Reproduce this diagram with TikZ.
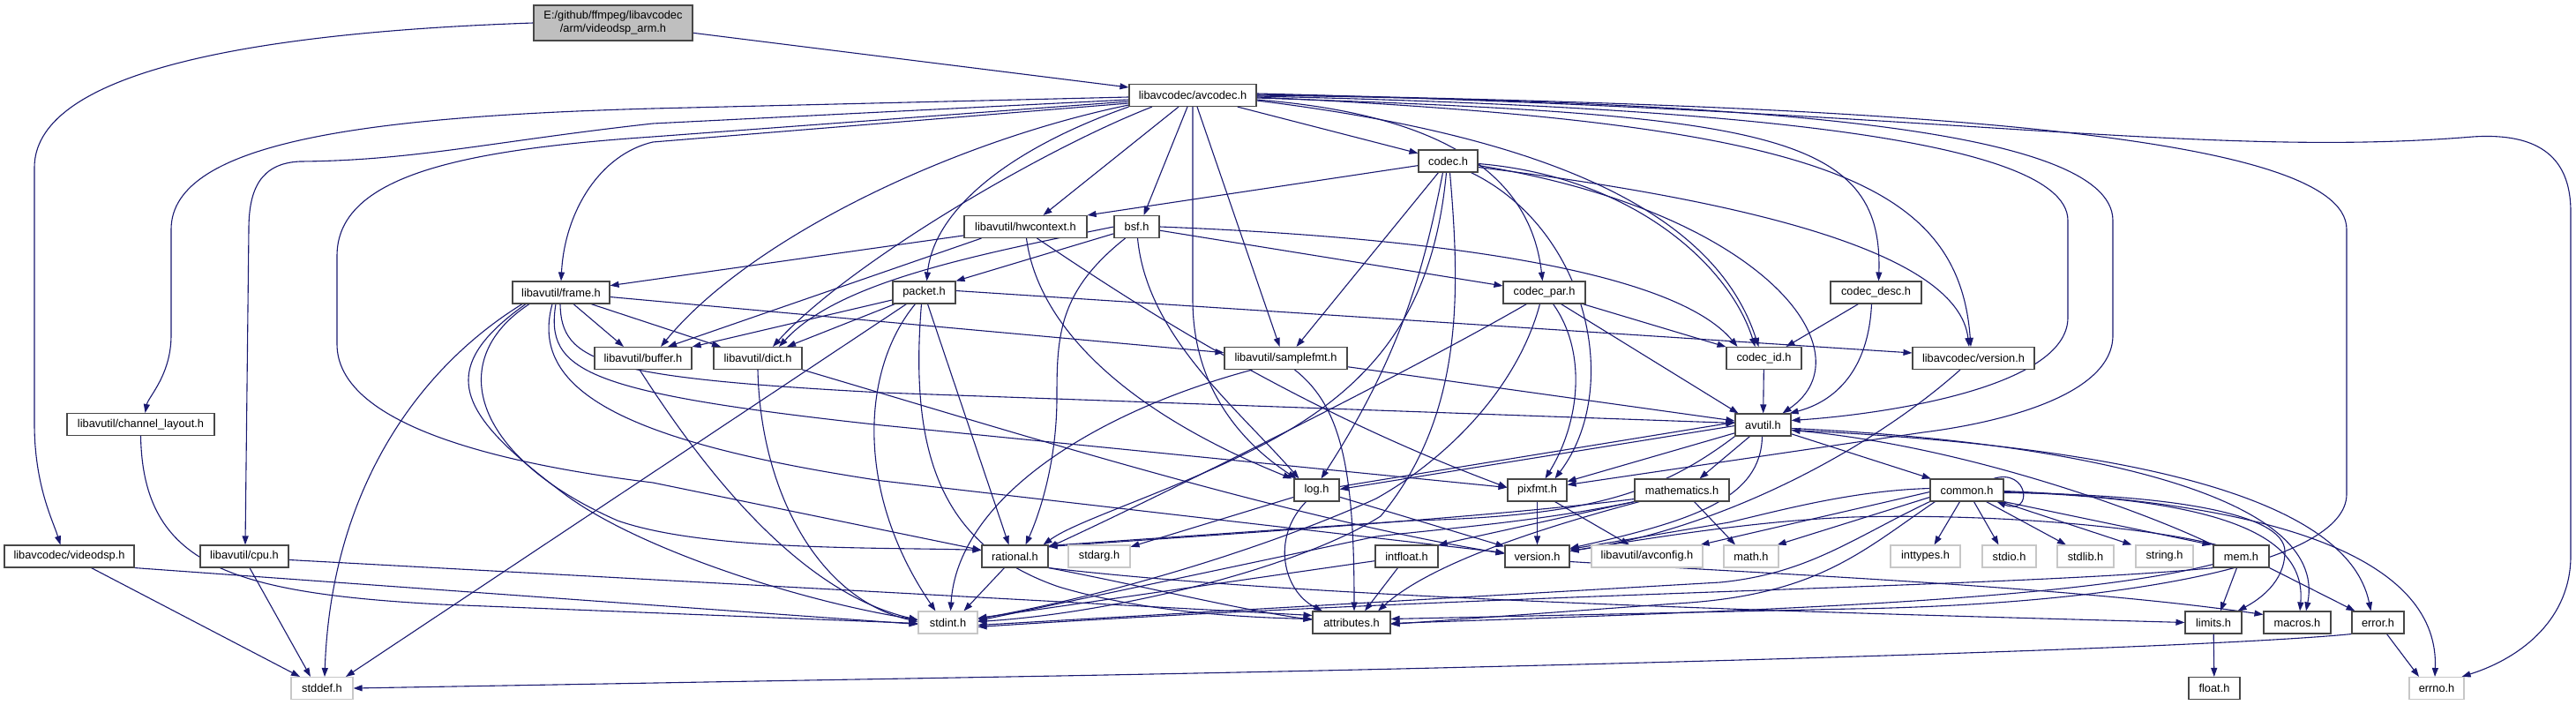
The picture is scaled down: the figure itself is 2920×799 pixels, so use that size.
\documentclass[tikz,border=0pt]{standalone}
\usepackage{fontspec}
\setmainfont{Liberation Sans}
\usetikzlibrary{arrows.meta,backgrounds}
\definecolor{edgec}{HTML}{191970}
\begin{document}
\begin{tikzpicture}[x=1pt,y=-1pt,
  box/.style={draw=black!72,line width=1.1pt,fill=white,inner sep=0pt,minimum height=25pt,font=\fontsize{12.8pt}{15pt}\selectfont},
  sys/.style={box,draw=black!22},
  rootbox/.style={box,fill=black!25,minimum height=40pt,align=center},
  e/.style={draw=edgec,line width=1.1pt,-{Triangle[length=10pt,width=7pt]}},
]
\useasboundingbox (0,0) rectangle (2920,799);
% nodes
\node[rootbox,minimum width=180pt] (root) at (695,26) {E:/github/ffmpeg/libavcodec\\/arm/videodsp\_arm.h};
\node[box,minimum width=144pt] (avcodec) at (1352,108) {libavcodec/avcodec.h};
\node[box,minimum width=67pt] (codec) at (1641.5,182.5) {codec.h};
\node[box,minimum width=139pt] (hwcontext) at (1162.5,257) {libavutil/hwcontext.h};
\node[box,minimum width=51pt] (bsf) at (1288.5,257) {bsf.h};
\node[box,minimum width=110pt] (frame) at (636,331.5) {libavutil/frame.h};
\node[box,minimum width=71pt] (packet) at (1047.5,331.5) {packet.h};
\node[box,minimum width=93pt] (codecpar) at (1750.5,331.5) {codec\_par.h};
\node[box,minimum width=103pt] (codecdesc) at (2126.5,331.5) {codec\_desc.h};
\node[box,minimum width=167pt] (chlayout) at (159.5,481) {libavutil/channel\_layout.h};
\node[box,minimum width=110pt] (buffer) at (729,406) {libavutil/buffer.h};
\node[box,minimum width=100pt] (dict) at (859,406) {libavutil/dict.h};
\node[box,minimum width=139pt] (samplefmt) at (1457.5,406) {libavutil/samplefmt.h};
\node[box,minimum width=85pt] (codecid) at (1999.5,406) {codec\_id.h};
\node[box,minimum width=138pt] (lavcver) at (2237,406) {libavcodec/version.h};
\node[box,minimum width=63pt] (avutil) at (1998.5,481.5) {avutil.h};
\node[box,minimum width=51pt] (log) at (1492.5,555.5) {log.h};
\node[box,minimum width=67pt] (pixfmt) at (1742.5,555.5) {pixfmt.h};
\node[box,minimum width=107pt] (mathematics) at (1906.5,555.5) {mathematics.h};
\node[box,minimum width=83pt] (common) at (2229.5,555.5) {common.h};
\node[box,minimum width=147pt] (videodsp) at (78.5,630.5) {libavcodec/videodsp.h};
\node[box,minimum width=100pt] (cpu) at (277,630.5) {libavutil/cpu.h};
\node[box,minimum width=75pt] (rational) at (1150.5,630.5) {rational.h};
\node[sys,minimum width=70pt] (stdarg) at (1246,630.5) {stdarg.h};
\node[box,minimum width=71pt] (intfloat) at (1594.5,630.5) {intfloat.h};
\node[box,minimum width=73pt] (version) at (1742.5,630.5) {version.h};
\node[sys,minimum width=126pt] (avconfig) at (1867,630.5) {libavutil/avconfig.h};
\node[sys,minimum width=62pt] (math) at (1985,630.5) {math.h};
\node[sys,minimum width=79pt] (inttypes) at (2182.5,630.5) {inttypes.h};
\node[sys,minimum width=61pt] (stdio) at (2277.5,630.5) {stdio.h};
\node[sys,minimum width=64pt] (stdlib) at (2364,630.5) {stdlib.h};
\node[sys,minimum width=65pt] (string) at (2453.5,630.5) {string.h};
\node[box,minimum width=63pt] (mem) at (2540.5,630.5) {mem.h};
\node[sys,minimum width=67pt] (stdint) at (1074.5,705.5) {stdint.h};
\node[box,minimum width=88pt] (attributes) at (1532,705.5) {attributes.h};
\node[box,minimum width=64pt] (limits) at (2509,705.5) {limits.h};
\node[box,minimum width=76pt] (macros) at (2604,705.5) {macros.h};
\node[box,minimum width=59pt] (error) at (2695.5,705.5) {error.h};
\node[sys,minimum width=70pt] (stddef) at (365,780) {stddef.h};
\node[box,minimum width=58pt] (float) at (2510,780) {float.h};
\node[sys,minimum width=62pt] (errno) at (2762,780) {errno.h};

\begin{pgfonlayer}{background}
% root
\draw[e] (root) -- (avcodec);
\draw[e] (root.west) .. controls (250,38) and (39,90) .. (39,190) -- (39,480) .. controls (39,550) and (60,590) .. ([xshift=-10pt]videodsp.north);
% avcodec
\draw[e] ([yshift=-2pt]avcodec.west) -- (740,123) .. controls (420,132) and (194,160) .. (194,260) -- (194,380) .. controls (194,425) and (168,450) .. ([xshift=5pt]chlayout.north);
\draw[e] ([yshift=-5pt]avcodec.west) -- (740,140) .. controls (560,160) and (470,182) .. (340,183) .. controls (295,185) and (282,215) .. (282,260) -- ([xshift=1pt]cpu.north);
\draw[e] ([yshift=-7pt]avcodec.west) -- (740,155) .. controls (520,170) and (382,200) .. (382,290) -- (382,390) .. controls (382,480) and (560,525) .. (740,547) -- ([yshift=7pt]rational.west);
\draw[e] ([yshift=-9pt]avcodec.west) -- (740,161) .. controls (680,175) and (640,240) .. (frame.north);
\draw[e] ([yshift=-11pt]avcodec.west) .. controls (1080,160) and (850,270) .. ([xshift=20pt]buffer.north);
\draw[e] ([xshift=-46pt]avcodec.south) .. controls (1180,170) and (960,300) .. ([xshift=17pt]dict.north);
\draw[e] (avcodec.south west) .. controls (1140,170) and (1058,240) .. ([xshift=3pt]packet.north);
\draw[e] ([xshift=-16pt]avcodec.south) -- ([xshift=20pt]hwcontext.north);
\draw[e] ([xshift=-6pt]avcodec.south) -- ([xshift=8pt]bsf.north);
\draw[e] (avcodec.south) -- (1352,340) .. controls (1352,450) and (1420,510) .. ([xshift=3pt]log.north west);
\draw[e] ([xshift=5pt]avcodec.south) -- ([xshift=-7pt]samplefmt.north);
\draw[e] (avcodec) -- (codec);
\draw[e] ([yshift=-5pt]avcodec.east) .. controls (1640,130) and (1735,200) .. ([xshift=-2pt]codecpar.north);
\draw[e] ([yshift=-6pt]avcodec.east) .. controls (1800,160) and (1950,260) .. ([xshift=-6pt]codecid.north);
\draw[e] ([yshift=-3pt]avcodec.east) .. controls (2000,130) and (2135,150) .. ([xshift=3pt]codecdesc.north);
\draw[e] ([yshift=-2pt]avcodec.east) .. controls (2050,140) and (2220,200) .. ([xshift=-3pt]lavcver.north);
\draw[e] ([yshift=-1pt]avcodec.east) .. controls (1900,120) and (2344,150) .. (2344,250) -- (2344,360) .. controls (2344,440) and (2130,470) .. ([yshift=5pt]avutil.east);
\draw[e] (avcodec.east) .. controls (1950,115) and (2395,140) .. (2395,250) -- (2395,380) .. controls (2395,450) and (2260,480) .. (2180,490) -- ([yshift=6pt]pixfmt.east);
\draw[e] ([yshift=1pt]avcodec.east) .. controls (2150,120) and (2660,150) .. (2660,260) -- (2660,560) .. controls (2660,640) and (2400,685) .. (2100,690) -- ([yshift=4pt]attributes.east);
\draw[e] ([yshift=2pt]avcodec.east) .. controls (2200,125) and (2500,180) .. (2803,155) .. controls (2880,150) and (2914,180) .. (2914,240) -- (2914,630) .. controls (2914,700) and (2860,745) .. ([xshift=-3pt]errno.north east);
% codec
\draw[e] (codec) -- (hwcontext.north east);
\draw[e] ([xshift=-11pt]codec.south) -- ([xshift=12pt]samplefmt.north);
\draw[e] ([xshift=-6pt]codec.south) .. controls (1615,300) and (1590,400) .. ([xshift=5pt]log.north);
\draw[e] ([xshift=-2pt]codec.south) .. controls (1625,350) and (1560,440) .. (1420,510) .. controls (1320,560) and (1220,590) .. ([xshift=-6pt]rational.north east);
\draw[e] ([xshift=2pt]codec.south) .. controls (1655,330) and (1660,470) .. (1565,585) .. controls (1470,645) and (1260,695) .. ([yshift=1pt]stdint.east);
\draw[e] ([xshift=26pt]codec.south) .. controls (1800,260) and (1840,440) .. ([xshift=20pt]pixfmt.north);
\draw[e] ([yshift=-3pt]codec.east) .. controls (1850,200) and (1960,300) .. ([xshift=-10pt]codecid.north);
\draw[e] ([yshift=-5pt]codec.east) .. controls (2000,240) and (2120,400) .. ([xshift=22pt]avutil.north);
\draw[e] ([yshift=-7pt]codec.east) .. controls (2000,230) and (2220,290) .. ([xshift=-5pt]lavcver.north);
% hwcontext
\draw[e] (hwcontext) -- (frame);
\draw[e] ([xshift=-50pt]hwcontext.south) -- ([xshift=28pt]buffer.north);
\draw[e] ([xshift=1pt]hwcontext.south) .. controls (1175,360) and (1260,460) .. ([xshift=-2pt]log.north west);
\draw[e] ([xshift=13pt]hwcontext.south) .. controls (1280,340) and (1460,460) .. ([yshift=3pt]pixfmt.west);
% bsf
\draw[e] (bsf) -- (packet.north east);
\draw[e] (bsf.west) .. controls (1100,290) and (950,320) .. ([xshift=24pt]dict.north);
\draw[e] ([xshift=1pt]bsf.south) .. controls (1300,380) and (1400,460) .. ([xshift=-20pt]log.north);
\draw[e] ([xshift=-13pt]bsf.south) .. controls (1200,330) and (1198,380) .. (1198,450) .. controls (1198,530) and (1175,590) .. ([xshift=12pt]rational.north);
\draw[e] (bsf.east) .. controls (1650,270) and (1900,310) .. ([xshift=-30pt]codecid.north);
\draw[e] (bsf) -- (codecpar);
% packet
\draw[e] (packet) -- (buffer);
\draw[e] (packet) -- (dict);
\draw[e] ([xshift=-20pt]packet.south) -- ([xshift=27pt]stddef.north);
\draw[e] ([xshift=-10pt]packet.south) .. controls (975,420) and (970,560) .. ([xshift=-14pt]stdint.north);
\draw[e] ([xshift=4pt]packet.south) -- ([xshift=-7pt]rational.north);
\draw[e] ([xshift=-3pt]packet.south) .. controls (1030,520) and (1070,620) .. (1200,665) .. controls (1300,695) and (1420,700) .. ([yshift=4pt]attributes.west);
\draw[e] ([yshift=2pt]packet.east) -- ([yshift=6pt]lavcver.west);
% frame
\draw[e] ([xshift=14pt]frame.south) -- ([xshift=-22pt]buffer.north);
\draw[e] ([xshift=34pt]frame.south) -- ([xshift=-42pt]dict.north);
\draw[e] (frame) -- (samplefmt);
\draw[e] ([xshift=-44pt]frame.south) .. controls (470,420) and (375,560) .. ([xshift=3pt]stddef.north);
\draw[e] ([xshift=-40pt]frame.south) .. controls (490,420) and (520,470) .. (640,560) .. controls (720,620) and (900,680) .. ([yshift=3pt]stdint.west);
\draw[e] ([xshift=-36pt]frame.south) .. controls (500,410) and (540,520) .. (700,590) .. controls (800,625) and (1000,620) .. ([yshift=7pt]rational.west);
\draw[e] ([xshift=-1pt]frame.south) .. controls (636,410) and (680,428) .. (1000,445) -- ([yshift=2pt]avutil.west);
\draw[e] ([xshift=-6pt]frame.south) .. controls (618,420) and (660,445) .. (1000,482) -- ([yshift=3pt]pixfmt.west);
\draw[e] ([xshift=-10pt]frame.south) .. controls (600,440) and (700,500) .. (1000,545) -- ([yshift=4pt]version.west);
% channel_layout, cpu, videodsp
\draw[e] (chlayout.south) .. controls (162,640) and (260,672) .. (500,685) -- ([yshift=-1pt]stdint.west);
\draw[e] ([xshift=6pt]cpu.south) -- ([xshift=-13pt]stddef.north);
\draw[e] ([yshift=-4pt]cpu.east) -- ([yshift=8pt]attributes.west);
\draw[e] (videodsp) -- (stddef);
\draw[e] (videodsp.south east) -- ([yshift=-2pt]stdint.west);
% log
\draw[e] (log) -- (stdarg);
\draw[e] ([yshift=4pt]log.east) -- ([yshift=3pt]avutil.west);
\draw[e] ([yshift=-1pt]avutil.west) -- ([yshift=1pt]log.east);
\draw[e] ([xshift=-12pt]log.south) .. controls (1440,610) and (1455,670) .. ([xshift=-33pt]attributes.north);
\draw[e] (log) -- (version);
% avutil
\draw[e] (avutil) -- (common);
\draw[e] ([yshift=-6pt]avutil.east) .. controls (2400,505) and (2660,560) .. ([xshift=-8pt]error.north);
\draw[e] ([yshift=-4pt]avutil.east) .. controls (2350,500) and (2640,560) .. ([xshift=10pt]macros.north);
\draw[e] (avutil.south west) .. controls (1880,560) and (1800,585) .. (1600,590) -- ([yshift=-1pt]rational.north east);
\draw[e] ([xshift=-1pt]avutil.south) .. controls (1996,565) and (1920,590) .. ([yshift=-4pt]version.north east);
\draw[e] ([xshift=-15pt]avutil.south) -- ([xshift=20pt]mathematics.north);
\draw[e] (avutil) -- (pixfmt);
% pixfmt
\draw[e] (pixfmt) -- (version);
\draw[e] ([xshift=20pt]pixfmt.south) -- ([xshift=-20pt]avconfig.north);
% mathematics
\draw[e] ([xshift=14pt]mathematics.south) -- ([xshift=-18pt]math.north);
\draw[e] (mathematics.south west) -- (intfloat.north east);
\draw[e] ([yshift=-10pt]mathematics.west) .. controls (1700,585) and (1400,605) .. ([yshift=-2pt]rational.north east);
\draw[e] (mathematics.south west) .. controls (1750,590) and (1650,598) .. (1560,608) -- ([yshift=2pt]stdint.east);
\draw[e] ([xshift=6pt]mathematics.south west) .. controls (1740,600) and (1620,640) .. ([xshift=30pt]attributes.north);
% intfloat
\draw[e] ([xshift=-10pt]intfloat.south) -- ([xshift=15pt]attributes.north);
\draw[e] (intfloat) -- (stdint);
% rational
\draw[e] ([xshift=-12pt]rational.south) -- ([xshift=18pt]stdint.north);
\draw[e] (rational.south east) .. controls (1500,680) and (2100,695) .. (limits.west);
\draw[e] (rational.south east) .. controls (1300,665) and (1400,690) .. ([yshift=3pt]attributes.west);
% version
\draw[e] ([yshift=-6pt]version.east) .. controls (2000,650) and (2350,665) .. ([yshift=9pt]macros.west);
% common
\draw[e] ([xshift=-8pt]common.south) -- ([xshift=10pt]inttypes.north);
\draw[e] ([xshift=8pt]common.south) -- ([xshift=-12pt]stdio.north);
\draw[e] ([xshift=22pt]common.south) -- ([xshift=-22pt]stdlib.north);
\draw[e] ([xshift=-4pt]common.south east) -- ([xshift=-4pt]string.north west);
\draw[e] (common.south east) -- ([xshift=-2pt]mem.north west);
\draw[e] ([xshift=-12pt]common.north east) .. controls (2300,530) and (2305,585) .. ([xshift=-8pt]common.south east);
\draw[e] ([yshift=-3pt]common.east) .. controls (2450,560) and (2590,580) .. (2590,625) .. controls (2590,660) and (2560,680) .. ([xshift=-5pt]limits.north east);
\draw[e] ([yshift=-2pt]common.east) .. controls (2500,565) and (2615,600) .. ([xshift=3pt]macros.north);
\draw[e] ([yshift=-1pt]common.east) .. controls (2600,570) and (2765,640) .. ([xshift=-2pt]errno.north);
\draw[e] ([yshift=2pt]common.west) .. controls (2100,556) and (2020,578) .. (1960,592) -- ([yshift=8pt]version.east);
\draw[e] ([yshift=-2pt]common.west) -- ([xshift=-3pt]avconfig.north east);
\draw[e] ([yshift=-8pt]common.west) -- ([xshift=-2pt]math.north east);
\draw[e] (common.south west) .. controls (2100,610) and (2050,650) .. (1950,660) -- ([yshift=-3pt]stdint.east);
\draw[e] ([xshift=6pt]common.south west) .. controls (2110,625) and (2060,675) .. (1900,684) -- ([yshift=-2pt]attributes.east);
% mem
\draw[e] ([xshift=-5pt]mem.south) -- ([xshift=8pt]limits.north);
\draw[e] (mem.south east) -- ([xshift=4pt]error.north west);
\draw[e] (mem.north west) .. controls (2420,575) and (2220,505) .. ([yshift=-6pt]avutil.east);
\draw[e] (mem.south west) .. controls (2300,665) and (1700,672) .. ([yshift=-5pt]stdint.east);
\draw[e] ([yshift=4pt]mem.south west) .. controls (2350,680) and (2000,692) .. ([yshift=-1pt]attributes.east);
\draw[e] ([xshift=4pt]mem.north west) .. controls (2420,595) and (2250,582) .. (2100,586) .. controls (2000,590) and (1900,605) .. ([yshift=6pt]version.east);
% error, limits
\draw[e] ([xshift=10pt]error.south) -- ([xshift=-20pt]errno.north);
\draw[e] (error.south west) .. controls (2500,735) and (1800,755) .. (1200,766) -- (stddef.east);
\draw[e] (limits) -- (float);
% lavc version
\draw[e] ([xshift=-15pt]lavcver.south) .. controls (2120,510) and (1950,600) .. ([yshift=6pt]version.east);
% codec_par
\draw[e] (codecpar) -- (codecid);
\draw[e] ([xshift=19pt]codecpar.south) -- ([xshift=-28pt]avutil.north);
\draw[e] ([xshift=10pt]codecpar.south) .. controls (1800,400) and (1790,480) .. ([xshift=9pt]pixfmt.north);
\draw[e] ([xshift=-20pt]codecpar.south) .. controls (1600,420) and (1320,560) .. ([yshift=-3pt]rational.north east);
\draw[e] ([xshift=-5pt]codecpar.south) .. controls (1720,440) and (1640,520) .. (1560,565) .. controls (1450,615) and (1280,670) .. ([yshift=4pt]stdint.east);
% codec_desc, codec_id
\draw[e] ([xshift=-20pt]codecdesc.south) -- ([xshift=25pt]codecid.north);
\draw[e] ([xshift=-5pt]codecdesc.south) .. controls (2118,420) and (2080,455) .. ([xshift=-2pt]avutil.north east);
\draw[e] (codecid) -- (avutil);
% samplefmt
\draw[e] ([xshift=-38pt]samplefmt.south) .. controls (1230,470) and (1085,570) .. ([xshift=3pt]stdint.north);
\draw[e] (samplefmt) -- (avutil);
\draw[e] ([xshift=10pt]samplefmt.south) .. controls (1520,460) and (1535,530) .. ([xshift=3pt]attributes.north);
% buffer, dict
\draw[e] ([xshift=-4pt]buffer.south) .. controls (790,520) and (900,670) .. ([yshift=3pt]stdint.west);
\draw[e] (dict.south) .. controls (862,560) and (930,680) .. ([yshift=1pt]stdint.west);
\draw[e] (dict.south east) .. controls (1150,490) and (1450,585) .. ([yshift=3pt]version.west);
\end{pgfonlayer}
\end{tikzpicture}
\end{document}
